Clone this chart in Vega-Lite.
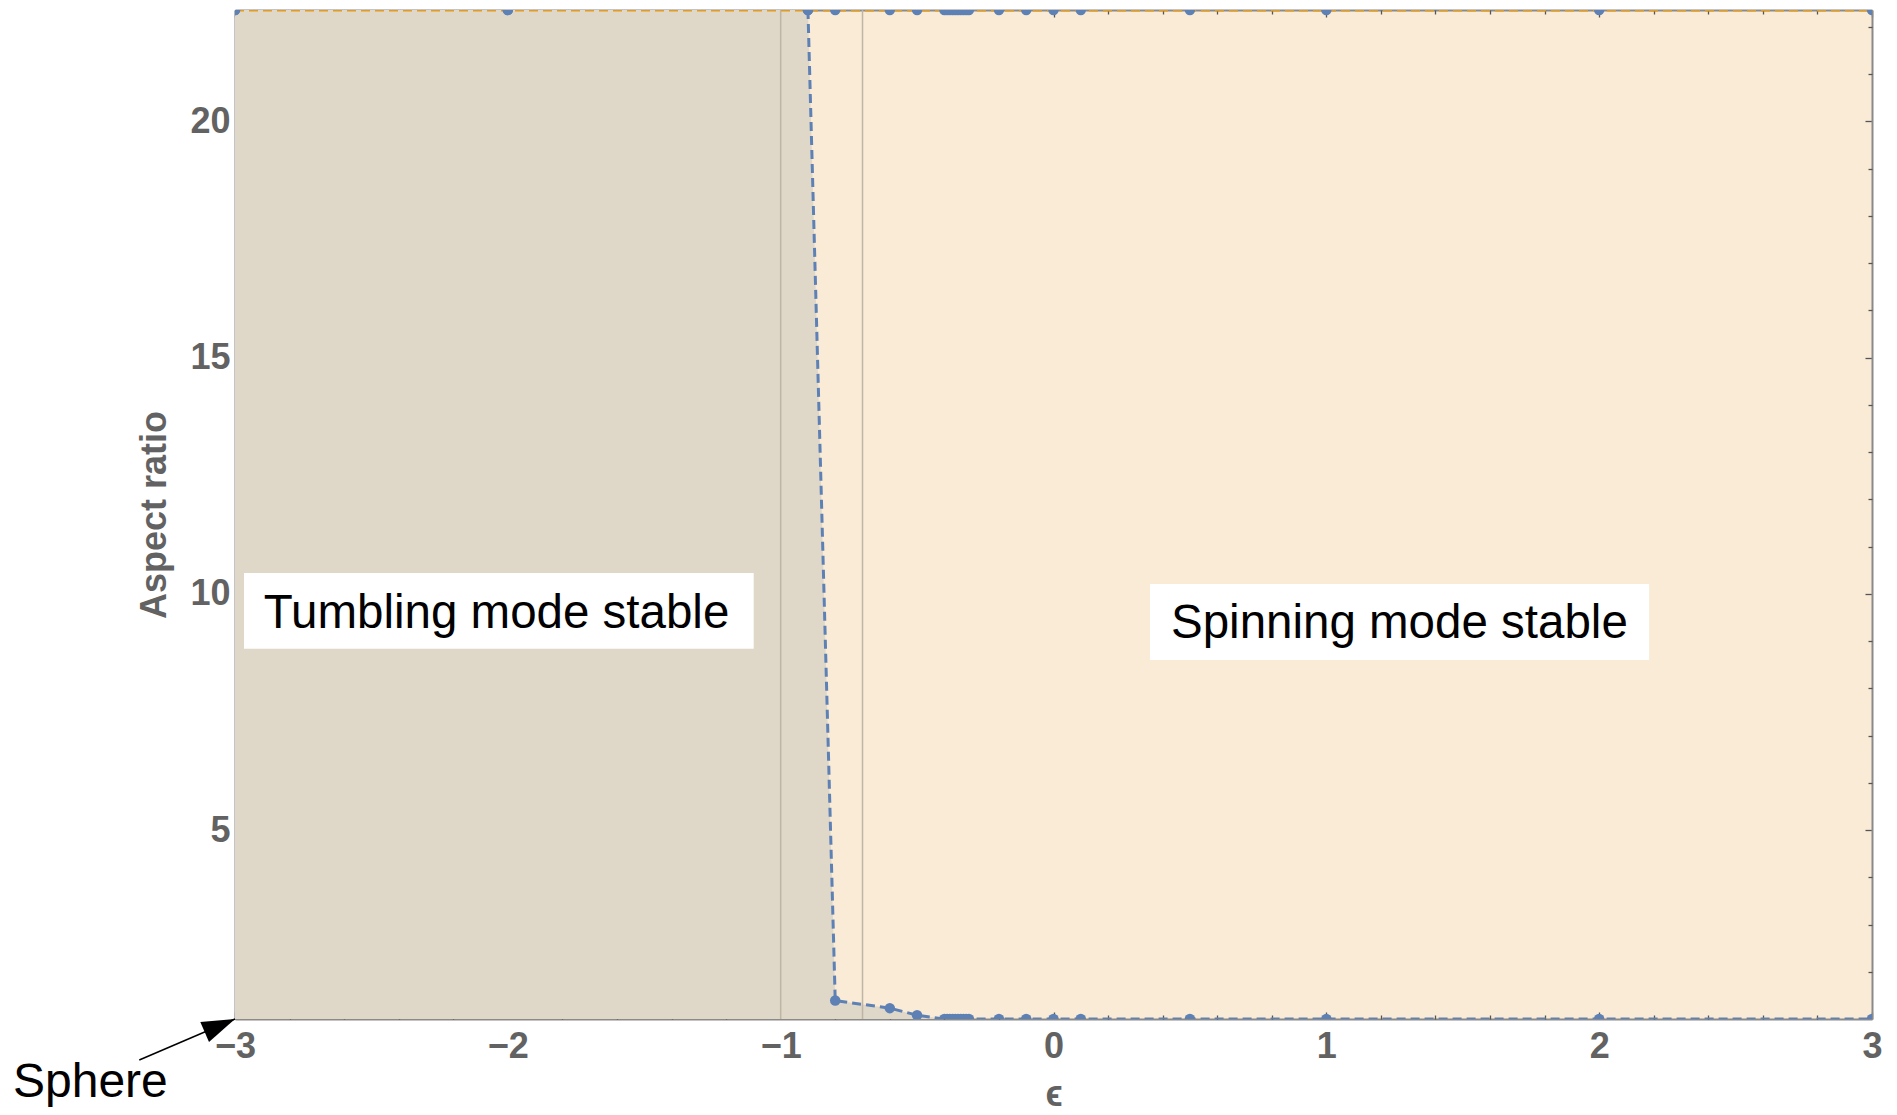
{
  "$schema": "https://vega.github.io/schema/vega-lite/v6.json",
  "width": 1637,
  "height": 1009,
  "autosize": {"type": "none"},
  "padding": {"left": 235, "top": 10, "right": 25, "bottom": 96},
  "background": "white",
  "view": {"fill": "#f9ebd6", "stroke": null},
  "config": {
    "axis": {
      "grid": false,
      "labelFont": "Liberation Sans",
      "titleFont": "Liberation Sans",
      "labelFontWeight": "bold",
      "titleFontWeight": "bold",
      "labelColor": "#626262",
      "titleColor": "#626262",
      "labelFontSize": 36,
      "titleFontSize": 36,
      "tickColor": "#555555",
      "tickWidth": 1.3,
      "domainColor": "#8a8a8a",
      "domainWidth": 2,
      "zindex": 1
    }
  },
  "datasets": {
    "critical": [
      {"eps": -3, "ratio": 22.36},
      {"eps": -2, "ratio": 22.36},
      {"eps": -0.9, "ratio": 22.36},
      {"eps": -0.8, "ratio": 1.39},
      {"eps": -0.6, "ratio": 1.23},
      {"eps": -0.5, "ratio": 1.08},
      {"eps": -0.4, "ratio": 1},
      {"eps": -0.39, "ratio": 1},
      {"eps": -0.38, "ratio": 1},
      {"eps": -0.37, "ratio": 1},
      {"eps": -0.36, "ratio": 1},
      {"eps": -0.35, "ratio": 1},
      {"eps": -0.34, "ratio": 1},
      {"eps": -0.33, "ratio": 1},
      {"eps": -0.32, "ratio": 1},
      {"eps": -0.31, "ratio": 1},
      {"eps": -0.2, "ratio": 1},
      {"eps": -0.1, "ratio": 1},
      {"eps": 0, "ratio": 1},
      {"eps": 0.1, "ratio": 1},
      {"eps": 0.5, "ratio": 1},
      {"eps": 1, "ratio": 1},
      {"eps": 2, "ratio": 1},
      {"eps": 3, "ratio": 1}
    ],
    "ceiling": [
      {"eps": -3, "ratio": 22.36},
      {"eps": -2, "ratio": 22.36},
      {"eps": -0.9, "ratio": 22.36},
      {"eps": -0.8, "ratio": 22.36},
      {"eps": -0.6, "ratio": 22.36},
      {"eps": -0.5, "ratio": 22.36},
      {"eps": -0.4, "ratio": 22.36},
      {"eps": -0.39, "ratio": 22.36},
      {"eps": -0.38, "ratio": 22.36},
      {"eps": -0.37, "ratio": 22.36},
      {"eps": -0.36, "ratio": 22.36},
      {"eps": -0.35, "ratio": 22.36},
      {"eps": -0.34, "ratio": 22.36},
      {"eps": -0.33, "ratio": 22.36},
      {"eps": -0.32, "ratio": 22.36},
      {"eps": -0.31, "ratio": 22.36},
      {"eps": -0.2, "ratio": 22.36},
      {"eps": -0.1, "ratio": 22.36},
      {"eps": 0, "ratio": 22.36},
      {"eps": 0.1, "ratio": 22.36},
      {"eps": 0.5, "ratio": 22.36},
      {"eps": 1, "ratio": 22.36},
      {"eps": 2, "ratio": 22.36},
      {"eps": 3, "ratio": 22.36}
    ],
    "walls": [{"eps": -1}, {"eps": -0.7}],
    "regions": [
      {"label": "Tumbling mode stable", "eps": -2.0413, "ratio": 9.269, "left": -2.967, "right": -1.0988, "top": 10.442, "bottom": 8.839},
      {"label": "Spinning mode stable", "eps": 1.2678, "ratio": 9.057, "left": 0.3537, "right": 2.1831, "top": 10.209, "bottom": 8.598}
    ],
    "sphere": [
      {"label": "Sphere", "eps": -3.8137, "ratio": -0.6576, "tailEps": -3.3508, "tailRatio": 0.132, "tipEps": -3, "tipRatio": 1}
    ]
  },
  "resolve": {"axis": {"x": "independent", "y": "independent"}},
  "layer": [
    {
      "data": {"name": "critical"},
      "mark": {"type": "area", "color": "#dfd7c8", "clip": true},
      "encoding": {
        "x": {"field": "eps", "type": "quantitative", "scale": {"domain": [-3, 3], "nice": false, "zero": false},
          "axis": {"orient": "bottom", "values": [-3, -2, -1, 0, 1, 2, 3], "format": "d", "ticks": false, "domain": false, "labelPadding": 10, "labelFlush": false, "labelOverlap": false, "title": "ϵ", "titlePadding": 13}},
        "y": {"field": "ratio", "type": "quantitative", "scale": {"domain": [1, 22.36], "nice": false, "zero": false},
          "axis": {"orient": "left", "values": [5, 10, 15, 20], "format": "d", "ticks": false, "domain": false, "labelPadding": 5, "labelFlush": false, "labelOverlap": false, "title": "Aspect ratio", "titlePadding": 16}},
        "y2": {"datum": 1}
      }
    },
    {
      "data": {"name": "walls"},
      "mark": {"type": "rule", "color": "#bfb5a5", "strokeWidth": 1.5},
      "encoding": {
        "x": {"field": "eps", "type": "quantitative", "scale": {"domain": [-3, 3], "nice": false, "zero": false},
          "axis": {"orient": "bottom", "values": [-3, -2, -1, 0, 1, 2, 3], "labels": false, "title": null, "tickSize": -7, "domain": true}}
      }
    },
    {
      "data": {"name": "ceiling"},
      "mark": {"type": "line", "color": "#e19c24", "strokeWidth": 3, "strokeDash": [9, 5], "clip": true},
      "encoding": {
        "x": {"field": "eps", "type": "quantitative", "scale": {"domain": [-3, 3], "nice": false, "zero": false},
          "axis": {"orient": "top", "values": [-3, -2, -1, 0, 1, 2, 3], "labels": false, "title": null, "tickSize": -7, "domain": true}},
        "y": {"field": "ratio", "type": "quantitative", "scale": {"domain": [1, 22.36], "nice": false, "zero": false},
          "axis": {"orient": "left", "values": [5, 10, 15, 20], "labels": false, "title": null, "tickSize": -7, "domain": true}}
      }
    },
    {
      "data": {"name": "critical"},
      "transform": [{"filter": "datum.eps >= -0.9"}],
      "mark": {"type": "line", "color": "#5e81b5", "strokeWidth": 3, "strokeDash": [9, 5], "clip": true},
      "encoding": {
        "x": {"field": "eps", "type": "quantitative", "scale": {"domain": [-3, 3], "nice": false, "zero": false},
          "axis": {"orient": "bottom", "values": [-2.8, -2.6, -2.4, -2.2, -1.8, -1.6, -1.4, -1.2, -0.8, -0.6, -0.4, -0.2, 0.2, 0.4, 0.6, 0.8, 1.2, 1.4, 1.6, 1.8, 2.2, 2.4, 2.6, 2.8], "labels": false, "title": null, "tickSize": -4, "domain": false}},
        "y": {"field": "ratio", "type": "quantitative", "scale": {"domain": [1, 22.36], "nice": false, "zero": false},
          "axis": {"orient": "left", "values": [2, 3, 4, 6, 7, 8, 9, 11, 12, 13, 14, 16, 17, 18, 19, 21, 22], "labels": false, "title": null, "tickSize": -4, "domain": false}}
      }
    },
    {
      "data": {"name": "critical"},
      "mark": {"type": "point", "filled": true, "color": "#5e81b5", "size": 110, "opacity": 1, "strokeWidth": 0, "clip": true},
      "encoding": {
        "x": {"field": "eps", "type": "quantitative", "scale": {"domain": [-3, 3], "nice": false, "zero": false},
          "axis": {"orient": "top", "values": [-2.8, -2.6, -2.4, -2.2, -1.8, -1.6, -1.4, -1.2, -0.8, -0.6, -0.4, -0.2, 0.2, 0.4, 0.6, 0.8, 1.2, 1.4, 1.6, 1.8, 2.2, 2.4, 2.6, 2.8], "labels": false, "title": null, "tickSize": -4, "domain": false}},
        "y": {"field": "ratio", "type": "quantitative", "scale": {"domain": [1, 22.36], "nice": false, "zero": false},
          "axis": {"orient": "right", "values": [5, 10, 15, 20], "labels": false, "title": null, "tickSize": -7, "domain": true}}
      }
    },
    {
      "data": {"name": "ceiling"},
      "mark": {"type": "point", "filled": true, "color": "#5e81b5", "size": 110, "opacity": 1, "strokeWidth": 0, "clip": true},
      "encoding": {
        "x": {"field": "eps", "type": "quantitative", "scale": {"domain": [-3, 3], "nice": false, "zero": false}, "axis": null},
        "y": {"field": "ratio", "type": "quantitative", "scale": {"domain": [1, 22.36], "nice": false, "zero": false},
          "axis": {"orient": "right", "values": [2, 3, 4, 6, 7, 8, 9, 11, 12, 13, 14, 16, 17, 18, 19, 21, 22], "labels": false, "title": null, "tickSize": -4, "domain": false}}
      }
    },
    {
      "data": {"name": "regions"},
      "mark": {"type": "rect", "color": "white", "opacity": 1},
      "encoding": {
        "x": {"field": "left", "type": "quantitative", "scale": {"domain": [-3, 3], "nice": false, "zero": false}, "axis": null},
        "x2": {"field": "right"},
        "y": {"field": "top", "type": "quantitative", "scale": {"domain": [1, 22.36], "nice": false, "zero": false}, "axis": null},
        "y2": {"field": "bottom"}
      }
    },
    {
      "data": {"name": "regions"},
      "mark": {"type": "text", "font": "Liberation Sans", "fontSize": 47.5, "align": "center", "baseline": "alphabetic", "color": "black"},
      "encoding": {
        "x": {"field": "eps", "type": "quantitative", "scale": {"domain": [-3, 3], "nice": false, "zero": false}, "axis": null},
        "y": {"field": "ratio", "type": "quantitative", "scale": {"domain": [1, 22.36], "nice": false, "zero": false}, "axis": null},
        "text": {"field": "label"}
      }
    },
    {
      "data": {"name": "sphere"},
      "mark": {"type": "text", "font": "Liberation Sans", "fontSize": 48, "align": "left", "baseline": "alphabetic", "color": "black"},
      "encoding": {
        "x": {"field": "eps", "type": "quantitative", "scale": {"domain": [-3, 3], "nice": false, "zero": false}, "axis": null},
        "y": {"field": "ratio", "type": "quantitative", "scale": {"domain": [1, 22.36], "nice": false, "zero": false}, "axis": null},
        "text": {"field": "label"}
      }
    },
    {
      "data": {"name": "sphere"},
      "mark": {"type": "rule", "color": "black", "strokeWidth": 1.5},
      "encoding": {
        "x": {"field": "tailEps", "type": "quantitative", "scale": {"domain": [-3, 3], "nice": false, "zero": false}, "axis": null},
        "y": {"field": "tailRatio", "type": "quantitative", "scale": {"domain": [1, 22.36], "nice": false, "zero": false}, "axis": null},
        "x2": {"field": "tipEps"},
        "y2": {"field": "tipRatio"}
      }
    },
    {
      "data": {"name": "sphere"},
      "mark": {"type": "point", "shape": "M0,0L-2,-0.667L-2,0.667Z", "filled": true, "color": "black", "opacity": 1, "strokeWidth": 0, "size": 1089, "angle": 336.8},
      "encoding": {
        "x": {"field": "tipEps", "type": "quantitative", "scale": {"domain": [-3, 3], "nice": false, "zero": false}, "axis": null},
        "y": {"field": "tipRatio", "type": "quantitative", "scale": {"domain": [1, 22.36], "nice": false, "zero": false}, "axis": null}
      }
    }
  ]
}
